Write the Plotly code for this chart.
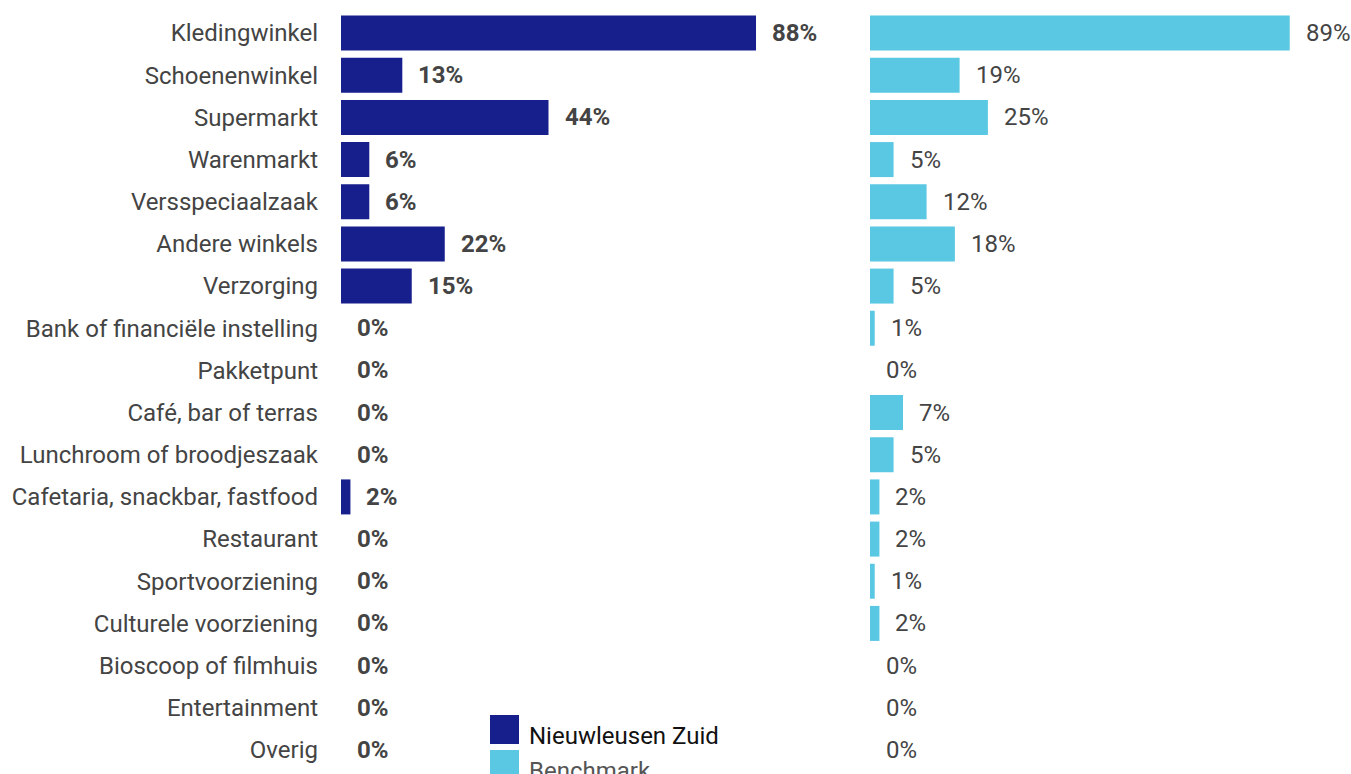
import plotly.graph_objects as go

categories = ["Kledingwinkel", "Schoenenwinkel", "Supermarkt", "Warenmarkt", "Versspeciaalzaak",
              "Andere winkels", "Verzorging", "Bank of financiële instelling", "Pakketpunt",
              "Café, bar of terras", "Lunchroom of broodjeszaak", "Cafetaria, snackbar, fastfood",
              "Restaurant", "Sportvoorziening", "Culturele voorziening", "Bioscoop of filmhuis",
              "Entertainment", "Overig"]
nieuwleusen = [88, 13, 44, 6, 6, 22, 15, 0, 0, 0, 0, 2, 0, 0, 0, 0, 0, 0]
benchmark = [89, 19, 25, 5, 12, 18, 5, 1, 0, 7, 5, 2, 2, 1, 2, 0, 0, 0]
series_names = ["Nieuwleusen Zuid", "Benchmark"]

DARK = "#161F8C"
LIGHT = "#5BC8E3"
FONT = "Roboto"
FS = 24

fig = go.Figure()
fig.add_trace(go.Bar(y=categories, x=nieuwleusen, orientation="h", marker_color=DARK,
                     marker_line_width=0, xaxis="x", yaxis="y", name=series_names[0],
                     showlegend=False, hoverinfo="x+y"))
fig.add_trace(go.Bar(y=categories, x=benchmark, orientation="h", marker_color=LIGHT,
                     marker_line_width=0, xaxis="x2", yaxis="y2", name=series_names[1],
                     showlegend=False, hoverinfo="x+y"))

annotations = []
for c, v in zip(categories, nieuwleusen):
    annotations.append(dict(x=v, y=c, xref="x", yref="y", text=f"{v}%", showarrow=False,
                            xanchor="left", xshift=14,
                            font=dict(family=FONT, size=FS, color="#444444", weight="bold")))
for c, v in zip(categories, benchmark):
    annotations.append(dict(x=v, y=c, xref="x2", yref="y2", text=f"{v}%", showarrow=False,
                            xanchor="left", xshift=14,
                            font=dict(family=FONT, size=FS, color="#444444")))

# legend drawn manually
legend_colors = [DARK, LIGHT]
legend_text_colors = ["#111111", "#555555"]
shapes = []
W, H = 1351, 774
ml, mr, mt, mb = 341, 0, 12, 3
pw, ph = W - ml - mr, H - mt - mb
for i, (n, col, tcol) in enumerate(zip(series_names, legend_colors, legend_text_colors)):
    top = 715 + i * 35
    shapes.append(dict(type="rect", xref="paper", yref="paper",
                       x0=(490 - ml) / pw, x1=(519 - ml) / pw,
                       y0=(H - mb - top) / ph, y1=(H - mb - top - 29) / ph,
                       fillcolor=col, line_width=0, layer="above"))
    annotations.append(dict(x=(527 - ml) / pw, y=(H - mb - (top + 21)) / ph, xref="paper", yref="paper",
                            text=n, showarrow=False, xanchor="left", yanchor="middle",
                            font=dict(family=FONT, size=FS, color=tcol)))

px_per_unit = 4.716
left_w = 100 * px_per_unit
right_start = 870 - ml
fig.update_layout(
    width=W, height=H,
    margin=dict(l=ml, r=mr, t=mt, b=mb),
    paper_bgcolor="white", plot_bgcolor="white",
    bargap=0.17,
    font=dict(family=FONT, size=FS, color="#444444"),
    xaxis=dict(domain=[0, left_w / pw], range=[0, 100], visible=False),
    xaxis2=dict(domain=[right_start / pw, 1], range=[0, (pw - right_start) / px_per_unit], visible=False),
    yaxis=dict(anchor="x", autorange="reversed", categoryorder="array", categoryarray=categories,
               showgrid=False, zeroline=False, showline=False, ticks="",
               ticklabelstandoff=22, tickfont=dict(family=FONT, size=FS, color="#444444")),
    yaxis2=dict(anchor="x2", autorange="reversed", categoryorder="array", categoryarray=categories,
                showgrid=False, zeroline=False, showline=False, ticks="", showticklabels=False),
    annotations=annotations,
    shapes=shapes,
    showlegend=False,
)

fig.write_html("out.html")
